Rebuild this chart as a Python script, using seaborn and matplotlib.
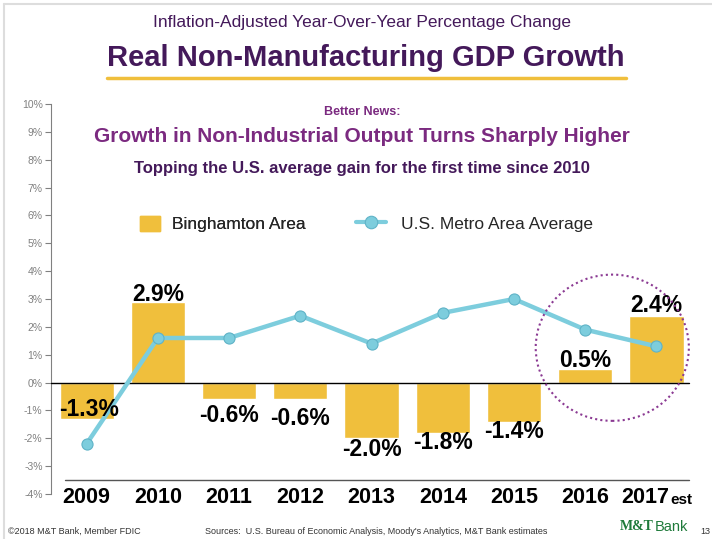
import matplotlib.pyplot as plt
import matplotlib.patches as mpatches
from matplotlib.lines import Line2D
import pandas as pd
import seaborn as sns

years = ["2009", "2010", "2011", "2012", "2013", "2014", "2015", "2016", "2017"]
binghamton = [-1.3, 2.9, -0.6, -0.6, -2.0, -1.8, -1.4, 0.5, 2.4]
us_metro = [-2.2, 1.6, 1.6, 2.4, 1.4, 2.5, 3.0, 1.9, 1.3]
y_ticks = list(range(-4, 11))

GOLD = "#F0BF3C"
BLUE = "#7DCDDD"
PURPLE = "#7B2A80"
DARK_PURPLE = "#44195A"

sns.set_theme(style="white")
plt.rcParams["font.family"] = ["Liberation Sans", "DejaVu Sans"]

df = pd.DataFrame({"year": years, "bing": binghamton, "us": us_metro})

fig = plt.figure(figsize=(7.12, 5.39), dpi=100)
ax = fig.add_axes([0.0716, 0.0835, 0.9004, 0.7236])

sns.barplot(data=df, x="year", y="bing", color=GOLD, width=0.76, saturation=1, ax=ax, zorder=2)
sns.pointplot(data=df, x="year", y="us", color=BLUE, markers="o", linestyles="-",
              markersize=8, linewidth=3.2, ax=ax, zorder=4,
              markeredgecolor="#5fb3c7", markeredgewidth=0.8)

ax.set_xlim(-0.5, 8.5)
ax.set_ylim(-4, 10)
ax.set_yticks(y_ticks)
ax.set_yticklabels([f"{t}%" for t in y_ticks], color="#808080", fontsize=7.5)
ax.tick_params(axis="y", left=True, length=4, width=0.8, color="#808080", pad=2)
ax.set_xticks([])
ax.set_xlabel("")
ax.set_ylabel("")
for side in ["top", "right", "bottom"]:
    ax.spines[side].set_visible(False)
ax.spines["left"].set_color("#808080")
ax.spines["left"].set_linewidth(0.8)

# zero line and category baseline
ax.plot([-0.5, 8.45], [0, 0], color="black", lw=1, zorder=3)
ax.plot([-0.3, 8.45], [-3.48, -3.48], color="#555555", lw=1, zorder=3)

# year labels
for i, yr in enumerate(years):
    xi = i - 0.16 if yr == "2017" else i
    ax.text(xi, -4.12, yr, ha="center", va="center", fontsize=15.5, fontweight="bold", color="black")
ax.text(8.2, -4.2, "est", ha="left", va="center", fontsize=11, fontweight="bold", color="black")

# value labels
label_pos = {
    "2009": (0.03, -0.95), "2010": (1, 3.15), "2011": (2, -1.2), "2012": (3, -1.3),
    "2013": (4, -2.4), "2014": (5, -2.15), "2015": (6, -1.75), "2016": (7, 0.8), "2017": (8, 2.75),
}
for yr, val in zip(years, binghamton):
    x, y = label_pos[yr]
    ax.text(x, y, f"{val:.1f}%", ha="center", va="center", fontsize=16.5, fontweight="bold",
            color="black", zorder=5)

# dotted highlight circle around 2016-2017
circle = mpatches.Ellipse((7.38, 1.25), 2.15, 5.25, fill=False, edgecolor="#8B3A93",
                          linestyle=(0, (1, 1.5)), lw=1.5, zorder=5)
ax.add_patch(circle)

# legend, two pieces so each handle gets its own width
leg1 = fig.legend(handles=[mpatches.Patch(color=GOLD, label="Binghamton Area")],
                  loc="center left", bbox_to_anchor=(124 / 712, 1 - 224 / 539), frameon=False,
                  fontsize=12.5, handlelength=1.15, handleheight=0.95, handletextpad=0.7)
fig.add_artist(leg1)
fig.legend(handles=[Line2D([0], [0], color=BLUE, lw=3, marker="o", markersize=9,
                           markeredgecolor="#5fb3c7", markeredgewidth=0.8,
                           label="U.S. Metro Area Average")],
           loc="center left", bbox_to_anchor=(340 / 712, 1 - 224 / 539), frameon=False,
           fontsize=12.5, handlelength=1.75, handletextpad=0.85)

# headings
fig.text(362 / 712, 1 - 22 / 539, "Inflation-Adjusted Year-Over-Year Percentage Change",
         ha="center", va="center", fontsize=12.5, color=DARK_PURPLE)
fig.text(366 / 712, 1 - 58 / 539, "Real Non-Manufacturing GDP Growth",
         ha="center", va="center", fontsize=21, fontweight="bold", color=DARK_PURPLE)
fig.add_artist(Line2D([107 / 712, 626 / 712], [1 - 78 / 539, 1 - 78 / 539], color=GOLD, lw=2.5))
fig.text(362 / 712, 1 - 112 / 539, "Better News:", ha="center", va="center",
         fontsize=9, fontweight="bold", color=PURPLE)
fig.text(362 / 712, 1 - 137 / 539, "Growth in Non-Industrial Output Turns Sharply Higher",
         ha="center", va="center", fontsize=15, fontweight="bold", color=PURPLE)
fig.text(362 / 712, 1 - 168 / 539, "Topping the U.S. average gain for the first time since 2010",
         ha="center", va="center", fontsize=12, fontweight="bold", color=DARK_PURPLE)

# footer
fig.text(8 / 712, 1 - 531 / 539, "\u00a92018 M&T Bank, Member FDIC", ha="left", va="center",
         fontsize=6.5, color="#333333")
fig.text(205 / 712, 1 - 531 / 539,
         "Sources:  U.S. Bureau of Economic Analysis, Moody's Analytics, M&T Bank estimates",
         ha="left", va="center", fontsize=6.5, color="#333333")
fig.text(620 / 712, 1 - 527 / 539, "M&T", ha="left", va="center", fontsize=10,
         fontweight="bold", color="#1F7A3A", family=["Liberation Serif", "DejaVu Serif"])
fig.text(655 / 712, 1 - 527 / 539, "Bank", ha="left", va="center", fontsize=10.5, color="#1F7A3A")
fig.text(700 / 712, 1 - 531 / 539, "13", ha="left", va="center", fontsize=6.5, color="#333333")

# slide frame
fig.add_artist(Line2D([4 / 712, 4 / 712], [0, 1 - 4 / 539], color="#DDDDDD", lw=1.5))
fig.add_artist(Line2D([4 / 712, 1], [1 - 4 / 539, 1 - 4 / 539], color="#DDDDDD", lw=1.5))

fig.savefig("out.png", dpi=100)
